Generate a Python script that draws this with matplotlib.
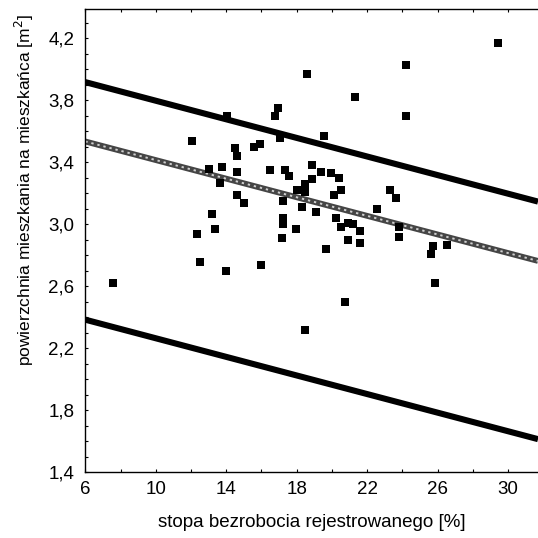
import numpy as np
import matplotlib
matplotlib.use("Agg")
import matplotlib.pyplot as plt
from matplotlib.ticker import FixedLocator, FuncFormatter

plt.rcParams['font.family'] = ['Liberation Sans', 'DejaVu Sans']

# unemployment rate [%] vs dwelling area per inhabitant [m2]
unemployment = [7.59, 12.03, 12.32, 12.51, 13.00, 13.19, 13.34, 13.67, 13.77, 13.96,
                14.06, 14.49, 14.59, 14.60, 14.60, 15.02, 15.60, 15.89, 15.99, 16.47,
                16.76, 16.96, 17.05, 17.15, 17.25, 17.25, 17.25, 17.34, 17.59, 17.97,
                18.02, 18.31, 18.50, 18.50, 18.50, 18.58, 18.89, 18.89, 19.08, 19.37,
                19.56, 19.66, 19.95, 20.14, 20.24, 20.39, 20.53, 20.53, 20.72, 20.92,
                20.92, 21.21, 21.30, 21.59, 21.59, 22.56, 23.28, 23.62, 23.81, 23.81,
                24.20, 24.20, 25.65, 25.75, 25.84, 26.52, 29.42]
area = [2.62, 3.54, 2.94, 2.76, 3.36, 3.07, 2.97, 3.27, 3.37, 2.70,
        3.70, 3.49, 3.44, 3.34, 3.19, 3.14, 3.50, 3.52, 2.74, 3.35,
        3.70, 3.75, 3.56, 2.91, 3.15, 3.04, 3.00, 3.35, 3.31, 2.97,
        3.22, 3.11, 3.26, 3.21, 2.32, 3.97, 3.38, 3.29, 3.08, 3.34,
        3.57, 2.84, 3.33, 3.19, 3.04, 3.30, 3.22, 2.98, 2.50, 3.01,
        2.90, 3.00, 3.82, 2.96, 2.88, 3.10, 3.22, 3.17, 2.98, 2.92,
        4.03, 3.70, 2.81, 2.86, 2.62, 2.87, 4.17]

# fitted line and band lines: intercept, slope
fit_line = (3.715, -0.0300)
upper_line = (4.098, -0.0300)
lower_line = (2.565, -0.0300)

x_ticks = [6, 10, 14, 18, 22, 26, 30]
x_minor = [8, 12, 16, 20, 24, 28]
y_ticks = [1.4, 1.8, 2.2, 2.6, 3.0, 3.4, 3.8, 4.2]
y_minor = [v / 10 for v in range(14, 44)]

x_min, x_max = 6, 31.7
y_min, y_max = 1.4, 4.39

fig = plt.figure(figsize=(5.38, 5.38), dpi=100)
ax = fig.add_axes([0.1586, 0.1221, 0.8414, 0.8612])

xs = np.array([x_min, x_max])
for a, b in (upper_line, lower_line):
    ax.plot(xs, a + b * xs, color='black', lw=4.4, solid_capstyle='butt', zorder=2)
a, b = fit_line
ax.plot(xs, a + b * xs, color='#454545', lw=4.2, solid_capstyle='butt', zorder=2)
ax.plot(xs, a + b * xs, color='#cfcfcf', lw=1.4, dashes=(1.2, 2.0), zorder=2)

ax.scatter(unemployment, area, marker='s', s=28, color='black', linewidths=0, zorder=3)

ax.set_xlim(x_min, x_max)
ax.set_ylim(y_min, y_max)

ax.xaxis.set_major_locator(FixedLocator(x_ticks))
ax.xaxis.set_minor_locator(FixedLocator(x_minor))
ax.yaxis.set_major_locator(FixedLocator(y_ticks))
ax.yaxis.set_minor_locator(FixedLocator(y_minor))
ax.yaxis.set_major_formatter(FuncFormatter(lambda v, p: f"{v:.1f}".replace('.', ',')))
ax.xaxis.set_major_formatter(FuncFormatter(lambda v, p: f"{v:.0f}"))

ax.tick_params(which='both', direction='in', length=2.5, width=0.8, top=True,
               labelsize=13.5, pad=6)
ax.tick_params(axis='y', pad=8)
ax.spines['right'].set_visible(False)
for s in ('left', 'bottom', 'top'):
    ax.spines[s].set_linewidth(1.0)

ax.set_xlabel('stopa bezrobocia rejestrowanego [%]', fontsize=13.5, labelpad=12)
ax.set_ylabel('powierzchnia mieszkania na mieszkańca [m$^2$]', fontsize=12.5)
ax.yaxis.set_label_coords(-0.11, 0.61)

fig.savefig('out.png', dpi=100)
